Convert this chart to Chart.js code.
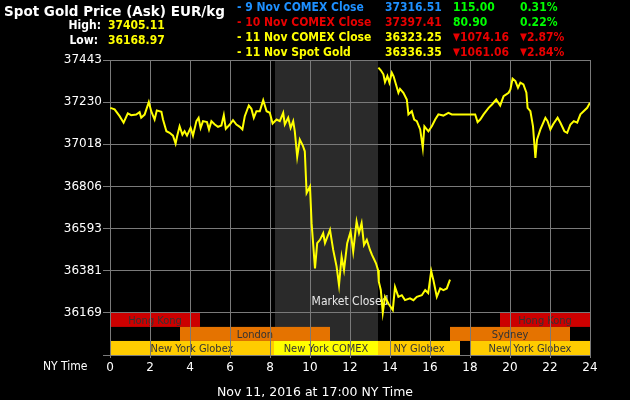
<!DOCTYPE html>
<html>
<head>
<meta charset="utf-8">
<script src="https://cdn.jsdelivr.net/npm/chart.js@4"></script>
<style>
  body { margin: 0; background: #000; }
  #wrap { position: relative; width: 630px; height: 400px; overflow: hidden; }
  #chart { position: absolute; left: 0; top: 0; }
  .t { position: absolute; white-space: nowrap; line-height: 15px; font: bold 12px "DejaVu Sans Condensed", "DejaVu Sans", sans-serif; }
  .w { color: #fff; } .y { color: #ffff00; } .b { color: #1e90ff; } .r { color: #e80000; } .g { color: #00ff00; }
  .tri { font-size: 10px; vertical-align: 1px; }
</style>
</head>
<body>
<div id="wrap">
  <canvas id="chart" width="630" height="400"></canvas>

  <div class="t w" style="left:4px;top:3px;font-family:'DejaVu Sans',sans-serif;font-size:13.5px">Spot Gold Price (Ask) EUR/kg</div>
  <div class="t w" style="left:0;width:101px;text-align:right;top:18px">High:</div>
  <div class="t y" style="left:108px;top:18px">37405.11</div>
  <div class="t w" style="left:0;width:98px;text-align:right;top:33px">Low:</div>
  <div class="t y" style="left:108px;top:33px">36168.97</div>

  <div class="t b" style="left:237px;top:0">- 9 Nov COMEX Close</div>
  <div class="t b" style="left:385px;top:0">37316.51</div>
  <div class="t g" style="left:453px;top:0">115.00</div>
  <div class="t g" style="left:520px;top:0">0.31%</div>

  <div class="t r" style="left:237px;top:15px">- 10 Nov COMEX Close</div>
  <div class="t r" style="left:385px;top:15px">37397.41</div>
  <div class="t g" style="left:453px;top:15px">80.90</div>
  <div class="t g" style="left:520px;top:15px">0.22%</div>

  <div class="t y" style="left:237px;top:30px">- 11 Nov COMEX Close</div>
  <div class="t y" style="left:385px;top:30px">36323.25</div>
  <div class="t r" style="left:453px;top:30px"><span class="tri">▼</span>1074.16</div>
  <div class="t r" style="left:520px;top:30px"><span class="tri">▼</span>2.87%</div>

  <div class="t y" style="left:237px;top:45px">- 11 Nov Spot Gold</div>
  <div class="t y" style="left:385px;top:45px">36336.35</div>
  <div class="t r" style="left:453px;top:45px"><span class="tri">▼</span>1061.06</div>
  <div class="t r" style="left:520px;top:45px"><span class="tri">▼</span>2.84%</div>

  <div class="t w" style="left:43px;top:359px;font-weight:normal">NY Time</div>
  <div class="t w" style="left:0;width:630px;text-align:center;top:384px;font-weight:normal;font-family:'DejaVu Sans',sans-serif;font-size:12.5px">Nov 11, 2016 at 17:00 NY Time</div>
</div>

<script>
// Nov 11 prices (hours NY time)
const todayHours = [
  0.01, 0.23, 0.48, 0.68, 0.89, 1.06, 1.31, 1.48, 1.56, 1.73,
  1.94, 2.06, 2.23, 2.34, 2.57, 2.65, 2.82, 2.98, 3.15, 3.28,
  3.35, 3.48, 3.62, 3.73, 3.85, 4.03, 4.15, 4.32, 4.43, 4.53,
  4.65, 4.85, 4.95, 5.07, 5.24, 5.40, 5.57, 5.69, 5.79, 5.99,
  6.15, 6.32, 6.49, 6.62, 6.74, 6.94, 7.07, 7.19, 7.32, 7.49,
  7.66, 7.83, 7.99, 8.13, 8.33, 8.49, 8.66, 8.74, 8.91, 9.03,
  9.16, 9.24, 9.36, 9.49, 9.64, 9.74, 9.83, 10.00, 10.08, 10.25,
  10.36, 10.50, 10.66, 10.75, 11.00, 11.16, 11.33, 11.45, 11.58, 11.70,
  11.86, 12.03, 12.16, 12.33, 12.45, 12.58, 12.70, 12.84, 13.00, 13.10,
  13.30, 13.40,
  13.44, 13.54, 13.64, 13.75, 13.92, 14.14, 14.25, 14.42, 14.59, 14.75,
  15.00, 15.17, 15.34, 15.59, 15.76, 15.91, 16.06, 16.17, 16.34, 16.51,
  16.67, 16.84, 17.00
]
const todayPrices = [
  37202, 37194, 37160, 37127, 37174, 37165, 37168, 37180, 37152, 37168,
  37231, 37185, 37143, 37189, 37182, 37143, 37084, 37076, 37062, 37022,
  37056, 37109, 37067, 37084, 37062, 37101, 37062, 37135, 37152, 37101,
  37135, 37130, 37093, 37135, 37118, 37106, 37113, 37165, 37096, 37118,
  37140, 37118, 37106, 37093, 37160, 37214, 37197, 37152, 37185, 37185,
  37241, 37185, 37177, 37123, 37143, 37135, 37177, 37118, 37152, 37101,
  37135, 37084, 36955, 37042, 37012, 36983, 36773, 36806, 36621, 36393,
  36520, 36537, 36570, 36521, 36587, 36486, 36402, 36309, 36452, 36385,
  36520, 36578, 36477, 36629, 36572, 36621, 36511, 36537, 36486, 36461,
  36419, 36385,
  36326, 36284, 36170, 36250, 36216, 36183, 36300, 36250, 36258, 36233,
  36242, 36233, 36250, 36258, 36284, 36269, 36380, 36334, 36250, 36292,
  36284, 36292, 36336
]
// previous session shown after the close
const prevHours = [
  13.42, 13.54, 13.67, 13.75, 13.87, 13.97, 14.09, 14.18, 14.30, 14.42,
  14.50, 14.67, 14.84, 14.92, 15.09, 15.21, 15.34, 15.51, 15.64, 15.72,
  15.92, 16.09, 16.26, 16.42, 16.67, 16.92, 17.09, 18.26, 18.38, 18.51,
  18.68, 18.93, 19.10, 19.31, 19.51, 19.68, 19.93, 20.02, 20.13, 20.27,
  20.40, 20.52, 20.67, 20.82, 20.88, 21.02, 21.15, 21.27, 21.35, 21.52,
  21.77, 21.88, 22.02, 22.15, 22.38, 22.52, 22.72, 22.86, 23.02, 23.19,
  23.36, 23.52, 23.68, 23.86, 24.00
]
const prevPrices = [
  37405, 37391, 37371, 37332, 37362, 37329, 37379, 37361, 37320, 37278,
  37298, 37278, 37244, 37169, 37185, 37143, 37135, 37093, 37000, 37109,
  37084, 37109, 37143, 37169, 37163, 37177, 37169, 37169, 37130, 37143,
  37169, 37202, 37219, 37244, 37214, 37261, 37278, 37295, 37349, 37337,
  37303, 37329, 37320, 37278, 37202, 37185, 37109, 36950, 37042, 37093,
  37152, 37135, 37093, 37118, 37152, 37127, 37084, 37076, 37118, 37135,
  37127, 37169, 37185, 37202, 37228
]

const yTicks = [35956.67, 36169, 36381, 36593, 36806, 37018, 37230, 37443]
const closedHours = [8.25, 13.4]

// trading sessions: name, start, end, row
const sessionNames = ['Hong Kong', 'Hong Kong', 'London', 'Sydney', 'New York Globex', 'New York COMEX', 'NY Globex', 'New York Globex']
const sessionStart = [0, 19.5, 3.5, 17, 0, 8.2, 13.4, 18]
const sessionEnd = [4.5, 24, 11, 23, 8.2, 13.4, 17.5, 24]
const sessionRow = [0, 0, 1, 1, 2, 2, 2, 2]
const sessionColors = ['#cc0000', '#cc0000', '#e57300', '#e57300', '#ffcc00', '#ffff00', '#ffcc00', '#ffcc00']

const gridColor = '#7a7a7a'

const sessionPlugin = {
  id: 'sessions',
  beforeDraw(chart) {
    const { ctx, chartArea: a, scales: { x, y } } = chart
    ctx.save()
    // market closed shading
    const c0 = x.getPixelForValue(closedHours[0])
    const c1 = x.getPixelForValue(closedHours[1])
    ctx.fillStyle = '#2a2a2a'
    ctx.fillRect(c0, a.top, c1 - c0, a.bottom - a.top)

    // session bars sit below the lowest labelled tick
    const top = y.getPixelForValue(yTicks[1])
    const rowH = (y.getPixelForValue(yTicks[0]) - top) / 3
    ctx.font = '11px "DejaVu Sans Condensed", "DejaVu Sans", sans-serif'
    ctx.textAlign = 'center'
    ctx.textBaseline = 'middle'
    sessionNames.forEach((name, i) => {
      const px0 = x.getPixelForValue(sessionStart[i])
      const px1 = x.getPixelForValue(sessionEnd[i])
      const py = top + sessionRow[i] * rowH
      ctx.fillStyle = sessionColors[i]
      ctx.fillRect(px0, py, px1 - px0, rowH)
      ctx.fillStyle = '#333'
      ctx.fillText(name, (px0 + px1) / 2, py + rowH / 2 + 1)
    })

    ctx.fillStyle = '#e8e8e8'
    ctx.font = '12px "DejaVu Sans Condensed", "DejaVu Sans", sans-serif'
    ctx.fillText('Market Closed', x.getPixelForValue(12.0), y.getPixelForValue(36224))
    ctx.restore()
  }
}

const toPoints = (hs, ps) => hs.map((h, i) => ({ x: h, y: ps[i] }))

new Chart(document.getElementById('chart'), {
  type: 'line',
  data: {
    datasets: [
      { data: toPoints(prevHours, prevPrices), borderColor: '#ffff00', borderWidth: 2, pointRadius: 0, tension: 0 },
      { data: toPoints(todayHours, todayPrices), borderColor: '#ffff00', borderWidth: 2, pointRadius: 0, tension: 0 }
    ]
  },
  options: {
    responsive: false,
    animation: false,
    layout: { padding: { top: 60, right: 40, left: 0, bottom: 0 } },
    plugins: { legend: { display: false }, tooltip: { enabled: false } },
    scales: {
      x: {
        type: 'linear',
        min: 0,
        max: 24,
        afterFit: s => { s.height = 45 },
        ticks: { stepSize: 2, color: '#fff', padding: 3, font: { family: 'DejaVu Sans', size: 12 } },
        grid: { color: gridColor, tickLength: 3 },
        border: { color: gridColor }
      },
      y: {
        min: yTicks[0],
        max: yTicks[yTicks.length - 1],
        afterFit: s => { s.width = 110 },
        afterBuildTicks: s => { s.ticks = yTicks.map(v => ({ value: v })) },
        ticks: {
          color: '#fff',
          padding: 1,
          font: { family: 'DejaVu Sans', size: 12 },
          callback: v => (v === yTicks[0] ? '' : String(v))
        },
        grid: { color: gridColor, tickLength: 7 },
        border: { color: gridColor }
      }
    }
  },
  plugins: [sessionPlugin]
})
</script>
</body>
</html>
